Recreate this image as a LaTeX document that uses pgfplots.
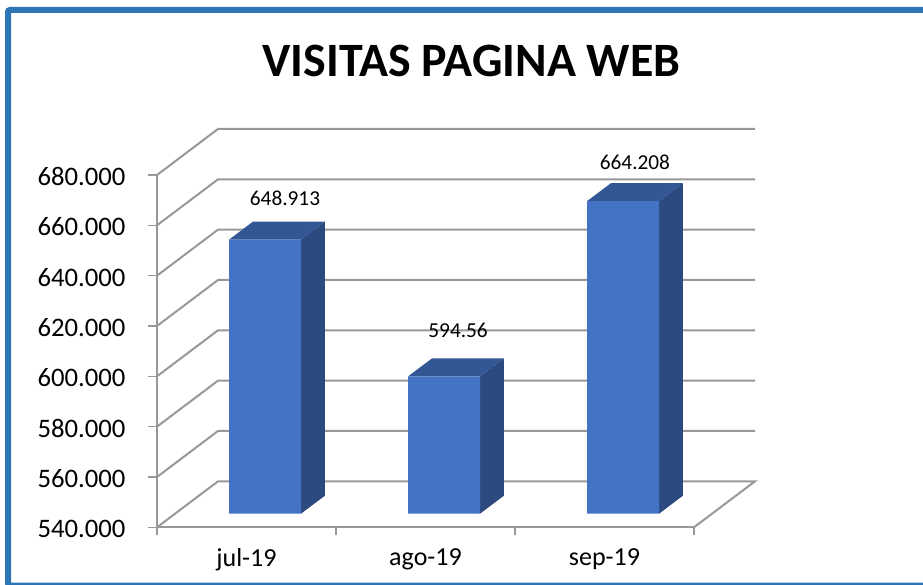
\documentclass[border=0pt]{standalone}
\usepackage{fontspec}
\setmainfont{Carlito}
\usepackage{pgfplots}
\pgfplotsset{compat=1.18}
\definecolor{gridc}{HTML}{989898}
\definecolor{barf}{HTML}{4472C4}
\definecolor{bars}{HTML}{2C4A80}
\definecolor{bart}{HTML}{335694}
\definecolor{framec}{HTML}{2E75B6}
\begin{document}
\begin{tikzpicture}[x=1pt,y=1pt]
\path[use as bounding box] (0,0) rectangle (923,584);
\begin{scope}
\clip (0,0) rectangle (923,584);
\draw[framec,line width=6pt,rounded corners=2pt] (930,-1.5) -- (8,-1.5) -- (8,574) -- (930,574);
\end{scope}
\node[font=\fontsize{47.9}{54}\selectfont\bfseries] at (471.5,523) {VISITAS PAGINA WEB};
\begin{axis}[
  at={(157pt,56.7pt)}, anchor=south west,
  scale only axis, width=537pt, height=352.3pt,
  xmin=0, xmax=3, ymin=540000, ymax=680000,
  clip=false,
  axis x line=bottom, axis y line=left,
  axis line style={-,draw=gridc,line width=2pt},
  xtick={0.5,1.5,2.5},
  xticklabels={jul-19,ago-19,sep-19},
  minor xtick={0,1,2,3},
  major x tick style={draw=none},
  minor x tick style={draw=gridc,line width=1.3pt},
  minor tick length=8pt,
  ytick={540000,560000,580000,600000,620000,640000,660000,680000},
  y tick style={draw=gridc,line width=1.3pt},
  major tick length=9pt,
  tick align=outside,
  xticklabel style={font=\fontsize{26}{30}\selectfont,yshift=-9pt},
  yticklabel style={font=\fontsize{26.7}{30}\selectfont,xshift=-19pt,yshift=-1.5pt},
  scaled y ticks=false,
  /pgf/number format/assume math mode=true,
  y tick label style={/pgf/number format/.cd,fixed,precision=0,1000 sep={.}},
]
% walls and floor
\addplot[gridc,line width=2pt,forget plot] coordinates {(3,540000)(3.3408,558280)(0.3408,558280)(0,540000)};
\addplot[gridc,line width=2pt,forget plot] coordinates {(0,560000)(0.3408,578280)(3.3408,578280)};
\addplot[gridc,line width=2pt,forget plot] coordinates {(0,580000)(0.3408,598280)(3.3408,598280)};
\addplot[gridc,line width=2pt,forget plot] coordinates {(0,600000)(0.3408,618280)(3.3408,618280)};
\addplot[gridc,line width=2pt,forget plot] coordinates {(0,620000)(0.3408,638280)(3.3408,638280)};
\addplot[gridc,line width=2pt,forget plot] coordinates {(0,640000)(0.3408,658280)(3.3408,658280)};
\addplot[gridc,line width=2pt,forget plot] coordinates {(0,660000)(0.3408,678280)(3.3408,678280)};
\addplot[gridc,line width=2pt,forget plot] coordinates {(0,680000)(0.3408,698280)(3.3408,698280)};
% side faces
\addplot[fill=bars,draw=none,xshift=18.5pt,yshift=13.6pt,forget plot] coordinates {(0.701,540000)(0.835,547153)(0.835,656066)(0.701,648913)} -- cycle;
\addplot[fill=bars,draw=none,xshift=18.5pt,yshift=13.6pt,forget plot] coordinates {(1.701,540000)(1.835,547153)(1.835,601713)(1.701,594560)} -- cycle;
\addplot[fill=bars,draw=none,xshift=18.5pt,yshift=13.6pt,forget plot] coordinates {(2.701,540000)(2.835,547153)(2.835,671361)(2.701,664208)} -- cycle;
% top faces
\addplot[fill=bart,draw=none,xshift=18.5pt,yshift=13.6pt,forget plot] coordinates {(0.299,648913)(0.701,648913)(0.835,656066)(0.433,656066)} -- cycle;
\addplot[fill=bart,draw=none,xshift=18.5pt,yshift=13.6pt,forget plot] coordinates {(1.299,594560)(1.701,594560)(1.835,601713)(1.433,601713)} -- cycle;
\addplot[fill=bart,draw=none,xshift=18.5pt,yshift=13.6pt,forget plot] coordinates {(2.299,664208)(2.701,664208)(2.835,671361)(2.433,671361)} -- cycle;
% front faces
\addplot[ybar,bar width=72pt,bar shift=0pt,fill=barf,draw=none,xshift=18.5pt,yshift=13.6pt] coordinates {(0.5,648913)(1.5,594560)(2.5,664208)};
\node[font=\fontsize{21.3}{24}\selectfont] at (axis cs:0.715,670865) {648.913};
\node[font=\fontsize{21.3}{24}\selectfont] at (axis cs:1.682,618410) {594.56};
\node[font=\fontsize{21.3}{24}\selectfont] at (axis cs:2.670,685170) {664.208};
\end{axis}
\end{tikzpicture}
\end{document}
